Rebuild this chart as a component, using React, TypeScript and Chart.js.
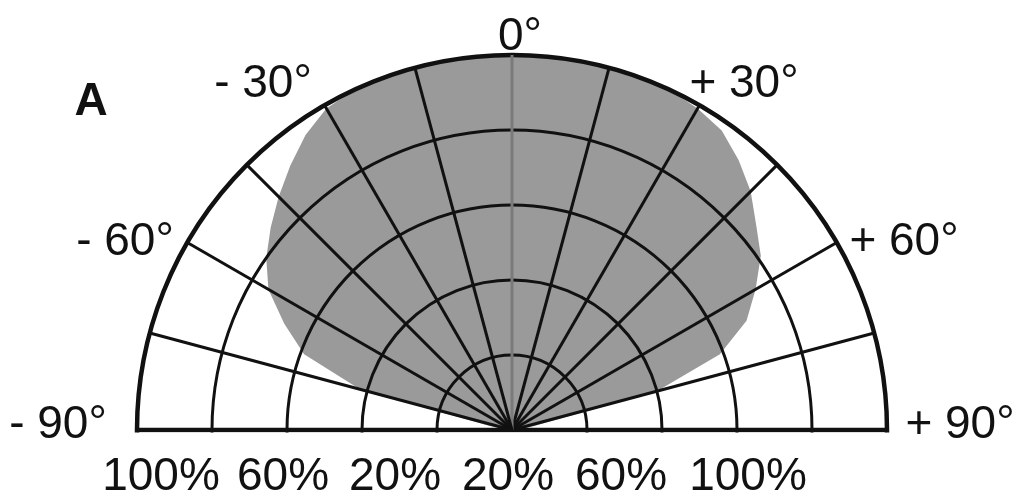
import { useEffect, useRef } from 'react';
import { Chart, registerables } from 'chart.js';

Chart.register(...registerables);

// Emission angles (degrees, -90 = left, 0 = up, +90 = right), 5° steps
const patternAngles = [
  -90, -85, -80, -75, -70, -65, -60, -55, -50, -45, -40, -35, -30, -25, -20, -15, -10, -5,
  0, 5, 10, 15, 20, 25, 30, 35, 40, 45, 50, 55, 60, 65, 70, 75, 80, 85, 90,
];
// Relative intensity (%) at each angle
const patternValues = [
  0, 2, 6, 42, 59, 67, 75, 80, 84, 88, 92, 96, 99, 100, 100, 100, 100, 100,
  100, 100, 100, 100, 100, 100, 99, 97.5, 94, 90, 85, 81, 75, 69, 59, 40, 6, 2, 0,
];
// Angle captions shown round the half circle
const angleCaptions = ['- 90°', '- 60°', '- 30°', '0°', '+ 30°', '+ 60°', '+ 90°'];
// Percent captions under the base line
const percentCaptions = ['100%', '60%', '20%', '20%', '60%', '100%'];
const panelLetter = 'A';

// ring values of the radial scale
const ringMax = 100;
const ringStep = 20;

export default function App() {
  const ref = useRef<HTMLCanvasElement>(null);

  useEffect(() => {
    const step = patternAngles[1] - patternAngles[0];
    const fullCount = Math.round(360 / step);
    // labels for the full circle; the lower half is hidden
    const labels: string[] = [];
    const values: number[] = [];
    for (let i = 0; i < fullCount; i++) {
      if (i < patternAngles.length) {
        labels.push(String(patternAngles[i]));
        values.push(patternValues[i]);
      } else {
        labels.push('');
        values.push(0);
      }
    }

    // caption offsets (px) relative to the polar centre: [dx, baseline dy]
    const captionPos: [number, number][] = [
      [-454, 8], [-387, -175], [-249, -333], [8, -380], [232, -333], [392, -175], [448, 8],
    ];
    const percentPos: [number, number][] = [
      [-351, 60], [-229, 60], [-117, 60], [-4, 60], [109, 60], [236, 60],
    ];

    const halfPlugin = {
      id: 'halfPolar',
      beforeDraw(chart: any) {
        const s = chart.scales.r;
        const ctx = chart.ctx;
        ctx.save();
        ctx.beginPath();
        ctx.rect(0, 0, chart.width, s.yCenter + 2.5);
        ctx.clip();
      },
      afterDraw(chart: any) {
        const s = chart.scales.r;
        const ctx = chart.ctx;
        ctx.restore();
        ctx.save();
        ctx.fillStyle = '#111';
        ctx.textAlign = 'center';
        ctx.textBaseline = 'alphabetic';
        ctx.font = '46px "Liberation Sans", Arial, sans-serif';
        angleCaptions.forEach((t, i) => {
          ctx.fillText(t, s.xCenter + captionPos[i][0], s.yCenter + captionPos[i][1]);
        });
        percentCaptions.forEach((t, i) => {
          ctx.fillText(t, s.xCenter + percentPos[i][0], s.yCenter + percentPos[i][1]);
        });
        ctx.font = 'bold 46px "Liberation Sans", Arial, sans-serif';
        ctx.fillText(panelLetter, s.xCenter - 421, s.yCenter - 315);
        ctx.restore();
      },
    };

    const upperLast = patternAngles.length - 1;
    const zeroIdx = patternAngles.indexOf(0);

    const chart = new Chart(ref.current!, {
      type: 'radar',
      data: {
        labels,
        datasets: [
          {
            data: values,
            backgroundColor: '#9a9a9a',
            borderColor: 'rgba(0,0,0,0)',
            borderWidth: 0,
            pointRadius: 0,
            pointHoverRadius: 0,
            fill: true,
            tension: 0,
          },
        ],
      },
      options: {
        animation: false,
        responsive: false,
        events: [],
        layout: { padding: { left: 137, right: 133, top: 55, bottom: 55 } },
        plugins: { legend: { display: false }, tooltip: { enabled: false } },
        scales: {
          r: {
            min: 0,
            max: ringMax,
            startAngle: -90,
            ticks: { display: false, stepSize: ringStep },
            pointLabels: { display: false },
            grid: {
              z: 1,
              circular: true,
              color: '#111',
              lineWidth: (c: any) => (c.index === 5 ? 4.5 : 3),
            },
            angleLines: {
              display: true,
              color: (c: any) => {
                const i = c.index;
                if (i > upperLast) return 'rgba(0,0,0,0)';
                if (i === zeroIdx) return '#7a7a7a';
                return patternAngles[i] % 15 === 0 ? '#111' : 'rgba(0,0,0,0)';
              },
              lineWidth: (c: any) => (c.index === 0 || c.index === upperLast ? 4.5 : 3),
            },
          },
        },
      },
      plugins: [halfPlugin],
    });
    return () => chart.destroy();
  }, []);

  return (
    <div
      style={{
        position: 'fixed',
        left: 0,
        top: 0,
        width: 1020,
        height: 504,
        overflow: 'hidden',
        background: '#fff',
      }}
    >
      <canvas ref={ref} width={1020} height={860} style={{ display: 'block', width: 1020, height: 860 }} />
    </div>
  );
}
